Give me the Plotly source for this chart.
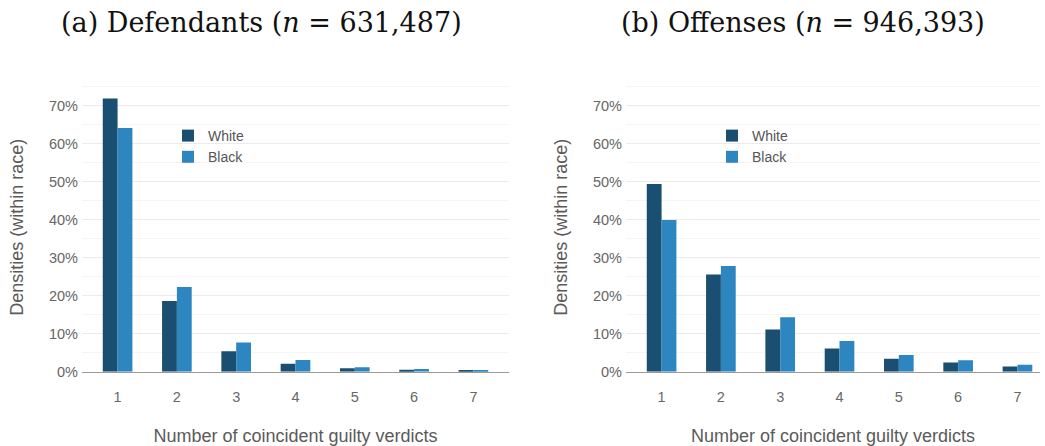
import plotly.graph_objects as go

categories = [1, 2, 3, 4, 5, 6, 7]
def_white = [0.719, 0.186, 0.054, 0.021, 0.009, 0.005, 0.003]
def_black = [0.641, 0.223, 0.077, 0.031, 0.012, 0.007, 0.0035]
off_white = [0.494, 0.256, 0.111, 0.061, 0.034, 0.024, 0.014]
off_black = [0.399, 0.278, 0.143, 0.081, 0.044, 0.030, 0.018]
titles = ["(a) Defendants (<i>n</i> = 631,487)", "(b) Offenses (<i>n</i> = 946,393)"]

C_WHITE = "#1b4f72"
C_BLACK = "#2e86c1"
W, H = 1045, 446

fig = go.Figure()
fig.add_bar(x=categories, y=def_white, name="White", marker_color=C_WHITE,
            marker_line_width=0, xaxis="x", yaxis="y", legend="legend")
fig.add_bar(x=categories, y=def_black, name="Black", marker_color=C_BLACK,
            marker_line_width=0, xaxis="x", yaxis="y", legend="legend")
fig.add_bar(x=categories, y=off_white, name="White", marker_color=C_WHITE,
            marker_line_width=0, xaxis="x2", yaxis="y2", legend="legend2")
fig.add_bar(x=categories, y=off_black, name="Black", marker_color=C_BLACK,
            marker_line_width=0, xaxis="x2", yaxis="y2", legend="legend2")

ydom = [(H - 371.7) / H, (H - 82.9) / H]
grid = "#ebebeb"
minor_grid = "#f5f5f5"
tickfont = dict(family="Liberation Sans, Arial, sans-serif", size=14.5, color="#666666")
titlefont = dict(family="Liberation Sans, Arial, sans-serif", size=18, color="#5a5a5a")

def xax(dom, rng):
    return dict(domain=dom, range=rng, tickmode="array", tickvals=categories,
                ticktext=[str(c) for c in categories], showgrid=False,
                showline=True, linecolor="#9a9a9a", linewidth=1.2, ticks="",
                tickfont=tickfont, ticklabelstandoff=12, zeroline=False, automargin=False,
                title=dict(text="Number of coincident guilty verdicts", font=titlefont, standoff=27))

def yax(anchor):
    return dict(domain=ydom, range=[0, 0.76], tickformat=".0%", dtick=0.1,
                gridcolor=grid, gridwidth=1, showline=False, zeroline=False,
                ticks="", tickfont=tickfont, ticklabelstandoff=3, anchor=anchor, automargin=False,
                minor=dict(dtick=0.05, showgrid=True, gridcolor=minor_grid, gridwidth=1),
                title=dict(text="Densities (within race)", font=titlefont, standoff=20))

leg = dict(font=dict(family="Liberation Sans, Arial, sans-serif", size=14, color="#555555"),
           bgcolor="rgba(0,0,0,0)", tracegroupgap=0, itemwidth=30,
           xanchor="left", yanchor="top", traceorder="normal")

fig.update_layout(
    width=W, height=H,
    margin=dict(l=0, r=0, t=0, b=0, autoexpand=False),
    paper_bgcolor="white", plot_bgcolor="white",
    barmode="group", bargap=0.5, bargroupgap=0,
    xaxis=xax([82 / W, 509 / W], [0.4, 7.6]),
    yaxis=yax("x"),
    xaxis2=xax([626 / W, 1040 / W], [0.4, 7.38]),
    yaxis2=dict(yax("x2")),
    legend=dict(leg, x=168 / W, y=(H - 120) / H),
    legend2=dict(leg, x=712 / W, y=(H - 120) / H),
    annotations=[
        dict(text=titles[0], x=261 / W, y=(H - 22) / H, xref="paper", yref="paper",
             showarrow=False, xanchor="center", yanchor="middle",
             font=dict(family="DejaVu Serif, serif", size=27, color="#111111")),
        dict(text=titles[1], x=803 / W, y=(H - 22) / H, xref="paper", yref="paper",
             showarrow=False, xanchor="center", yanchor="middle",
             font=dict(family="DejaVu Serif, serif", size=27, color="#111111")),
    ],
)

fig.write_html("out.html", config={"displayModeBar": False},
               post_script="document.body.style.margin='0';document.body.style.overflow='hidden';")
